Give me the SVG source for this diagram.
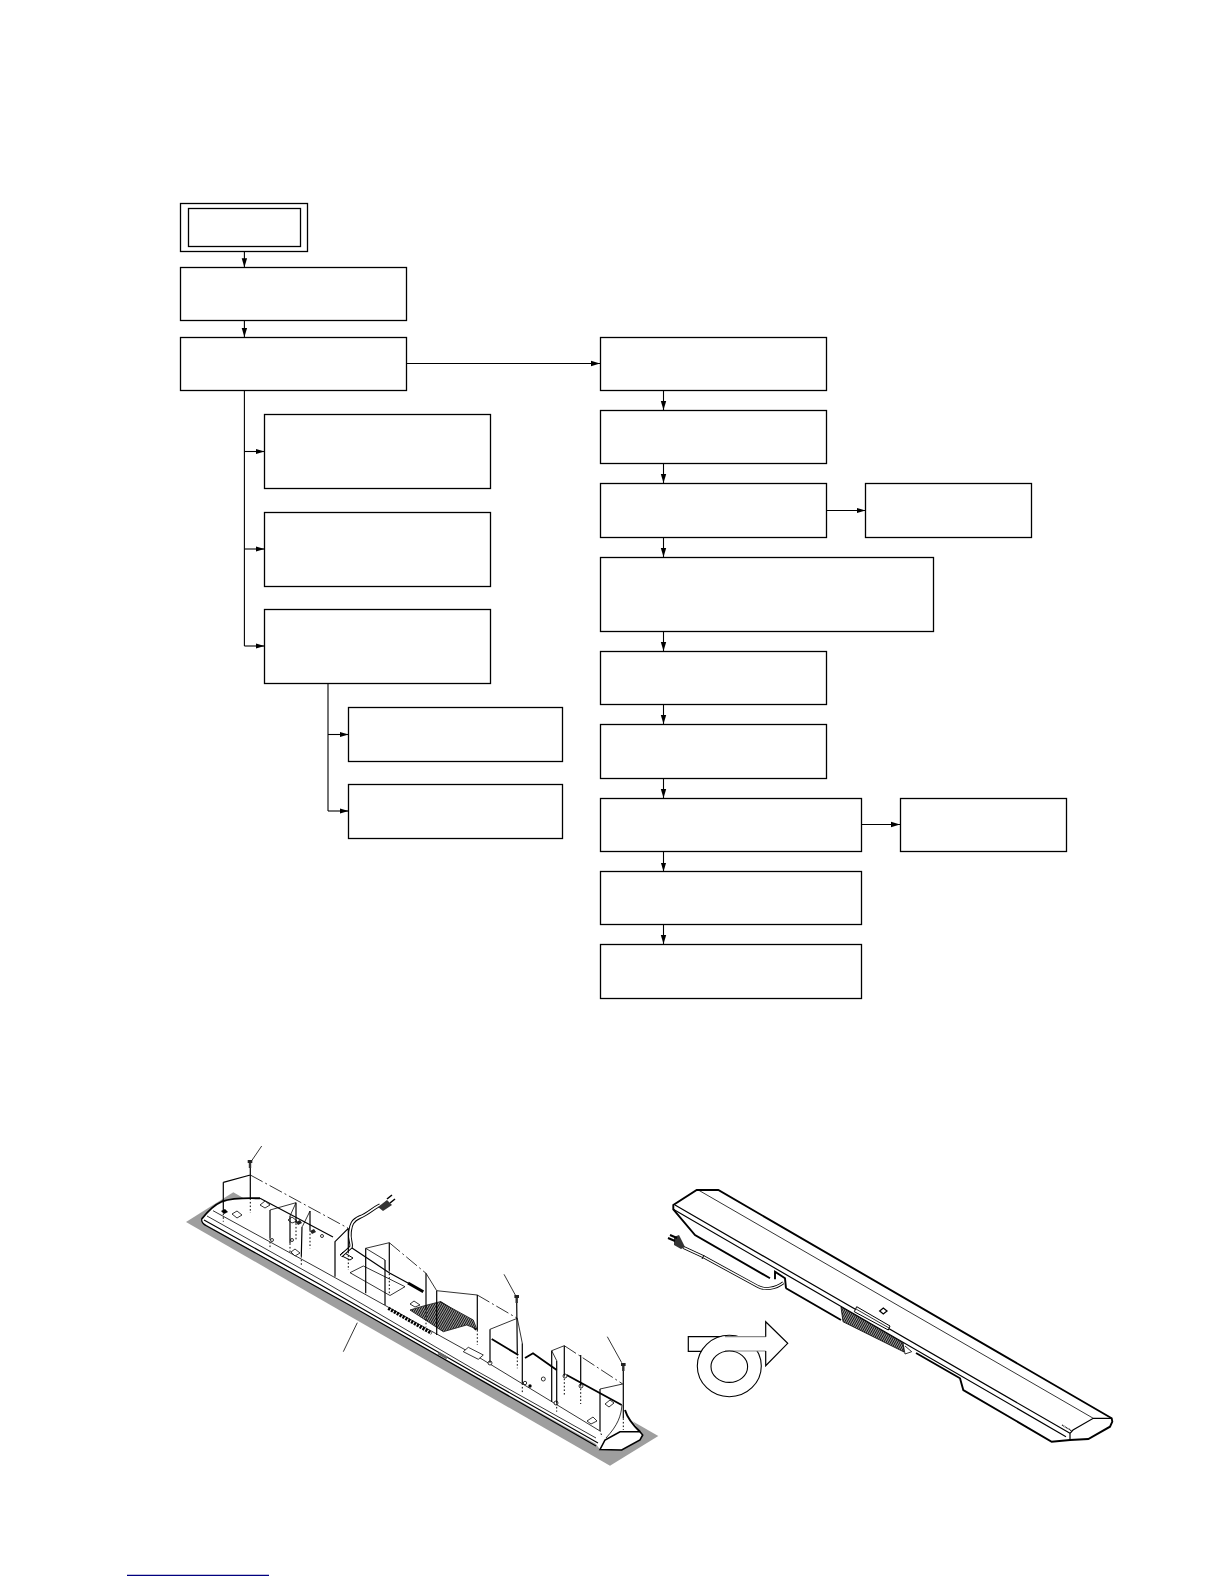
<svg xmlns="http://www.w3.org/2000/svg" width="1224" height="1584" viewBox="0 0 1224 1584">
<style>
.b{fill:#fff;stroke:#000;stroke-width:1.3}
.c{fill:none;stroke:#000;stroke-width:1.1}
.t{fill:none;stroke:#000;stroke-width:.8}
.m{fill:none;stroke:#000;stroke-width:1.2}
.k{fill:none;stroke:#000;stroke-width:1.9}
.x{fill:none;stroke:#000;stroke-width:3}
.d{fill:none;stroke:#000;stroke-width:1;stroke-dasharray:1.6 2}
.dd{fill:none;stroke:#000;stroke-width:.8;stroke-dasharray:14 3 2 3}
.s{fill:#fff;stroke:#000;stroke-width:.8}
</style>
<defs>
<marker id="a" markerUnits="userSpaceOnUse" markerWidth="9" markerHeight="7" refX="9" refY="3.5" orient="auto"><path d="M0 .8L9 3.5L0 6.2z" fill="#000"/></marker>
<pattern id="h" width="2" height="2" patternUnits="userSpaceOnUse" patternTransform="rotate(30)"><rect width="2" height="2" fill="#fff"/><rect width="1.4" height="2" fill="#111"/></pattern>
</defs>
<rect width="1224" height="1584" fill="#fff"/>
<g id="connectors">
<path class="c" marker-end="url(#a)" d="M244.4 251.5V267.3"/>
<path class="c" marker-end="url(#a)" d="M244.4 320.3V337"/>
<path class="c" marker-end="url(#a)" d="M406.3 363.5H600"/>
<path class="c" d="M244.4 390.3V646"/>
<path class="c" marker-end="url(#a)" d="M244.4 451.5H264.5"/>
<path class="c" marker-end="url(#a)" d="M244.4 549H264.5"/>
<path class="c" marker-end="url(#a)" d="M244.4 646H264.5"/>
<path class="c" d="M328 683V811"/>
<path class="c" marker-end="url(#a)" d="M328 734.5H348.5"/>
<path class="c" marker-end="url(#a)" d="M328 811H348.5"/>
<path class="c" marker-end="url(#a)" d="M663.5 390.3V410"/>
<path class="c" marker-end="url(#a)" d="M663.5 463V483"/>
<path class="c" marker-end="url(#a)" d="M663.5 537V557"/>
<path class="c" marker-end="url(#a)" d="M663.5 631V651"/>
<path class="c" marker-end="url(#a)" d="M663.5 704V724"/>
<path class="c" marker-end="url(#a)" d="M663.5 778V798"/>
<path class="c" marker-end="url(#a)" d="M663.5 851V871.5"/>
<path class="c" marker-end="url(#a)" d="M663.5 924V944"/>
<path class="c" marker-end="url(#a)" d="M826.5 510.5H865.5"/>
<path class="c" marker-end="url(#a)" d="M861.5 824.5H900"/>
</g>
<g id="n1"><rect class="b" x="180.5" y="203.5" width="127" height="48"/><rect class="b" x="188.5" y="208.5" width="112" height="38"/></g>
<g id="n2"><rect class="b" x="180.5" y="267.5" width="226" height="53"/></g>
<g id="n3"><rect class="b" x="180.5" y="337.5" width="226" height="53"/></g>
<g id="n4"><rect class="b" x="264.5" y="414.5" width="226" height="74"/></g>
<g id="n5"><rect class="b" x="264.5" y="512.5" width="226" height="74"/></g>
<g id="n6"><rect class="b" x="264.5" y="609.5" width="226" height="74"/></g>
<g id="n7"><rect class="b" x="348.5" y="707.5" width="214" height="54"/></g>
<g id="n8"><rect class="b" x="348.5" y="784.5" width="214" height="54"/></g>
<g id="n9"><rect class="b" x="600.5" y="337.5" width="226" height="53"/></g>
<g id="n10"><rect class="b" x="600.5" y="410.5" width="226" height="53"/></g>
<g id="n11"><rect class="b" x="600.5" y="483.5" width="226" height="54"/></g>
<g id="n12"><rect class="b" x="865.5" y="483.5" width="166" height="54"/></g>
<g id="n13"><rect class="b" x="600.5" y="557.5" width="333" height="74"/></g>
<g id="n14"><rect class="b" x="600.5" y="651.5" width="226" height="53"/></g>
<g id="n15"><rect class="b" x="600.5" y="724.5" width="226" height="54"/></g>
<g id="n16"><rect class="b" x="600.5" y="798.5" width="261" height="53"/></g>
<g id="n17"><rect class="b" x="900.5" y="798.5" width="166" height="53"/></g>
<g id="n18"><rect class="b" x="600.5" y="871.5" width="261" height="53"/></g>
<g id="n19"><rect class="b" x="600.5" y="944.5" width="261" height="54"/></g>

<g id="illustration-left">
<polygon points="186,1222 233.3,1192.3 658.3,1436 610,1465.7" fill="#9e9e9e"/>
<path d="M201.7 1219C208 1211 214 1205 222 1201.5C232 1198 250 1198 260 1198.3L333 1237L393 1273L467 1319L476 1330L518 1355L525 1358L533 1353.3L556.7 1370L622 1405L625 1410L640 1431.7L642.7 1435L640 1440L621.7 1450L600 1449.5L596 1444L353 1307L206.7 1225Q201 1223 201.7 1219z" fill="#fff"/>
<!-- panel edges -->
<path class="k" d="M201.7 1219C208 1211 214 1205 222 1201.5C232 1198 250 1198 260 1198.3"/>
<path class="m" d="M260 1198.3L333 1237M352 1248L390 1273.3L408 1283"/>
<path class="x" d="M408 1283L423.3 1291.7"/>
<path class="k" d="M440 1301.7L467 1319L476 1330M491.7 1339L518.3 1355M525 1358L533 1353.3L556.7 1370M566.7 1375L621.7 1405"/>
<path class="m" d="M201.7 1219Q201 1223 206.7 1226L353 1307L596 1446"/>
<path class="t" d="M213 1210.7L320 1269.3L480 1358L600 1431"/>
<path class="t" d="M207 1216L320 1279.3L476.7 1371L596 1438"/>
<path class="m" d="M204 1220L320 1284.5L480 1376L598 1443"/>
<rect x="438" y="1354" width="10" height="3" fill="#666" transform="rotate(30 443 1355)"/>
<!-- end cap -->
<path d="M600 1449.5L605 1440L620 1431.7L640 1431.7L642.7 1435L640 1440L621.7 1450z" fill="#fff" stroke="#000" stroke-width="1.6"/>
<path class="k" d="M625 1410C628 1420 634 1426 640 1431.7"/>
<path class="t" d="M622 1405C621 1416 618 1425 606 1438"/>
<!-- surface details -->
<path class="s" d="M350 1272.7L363.3 1266L405 1286.7L390 1295.5z"/>
<path class="s" d="M463.3 1351.7L468.3 1347.3L483.3 1355L478.3 1359.3z"/>
<path class="s" d="M232 1214L237 1211L242 1215L237 1218z"/>
<path class="s" d="M260 1205L265 1201L270 1205L265 1208z"/>
<path class="s" d="M288 1220L292 1217L297 1221L292 1223z"/>
<path class="s" d="M291 1252L295 1249L300 1253L295 1256z"/>
<path class="s" d="M410 1304L414 1301L420 1305L415 1307z"/>
<path class="s" d="M587 1421L593 1417L597 1421L591 1424z"/>
<path class="s" d="M605 1404L610 1400L614 1403L609 1407z"/>
<circle class="s" cx="543.3" cy="1379" r="2"/><circle class="s" cx="272" cy="1240" r="1.5"/><circle class="s" cx="292" cy="1240" r="1.5"/><circle class="s" cx="322" cy="1236" r="1.5"/><circle class="s" cx="490" cy="1363" r="2"/><circle class="s" cx="556" cy="1403" r="2"/><circle class="s" cx="565" cy="1376" r="2"/><circle class="s" cx="581" cy="1386" r="2"/>
<circle cx="530" cy="1386" r="1.7" fill="#000"/><circle cx="525" cy="1383" r="1.7" class="s"/>
<path d="M221 1211l4-2 3 3-4 2z" fill="#000"/>
<path d="M296 1222l4-2 2 3-4 2zM310 1231l4-2 2 3-4 2z" fill="#222"/>
<path d="M340 1255l10 5 3-2-10-6z" fill="#fff" stroke="#000" stroke-width="1"/>
<!-- vent -->
<path d="M410 1310L423.3 1306L440 1301.7L473.3 1320L476.7 1329L466.7 1325L443.3 1331.7z" fill="url(#h)" stroke="#111" stroke-width=".8"/>
<path d="M388.3 1308.3L431.7 1333.3" stroke="#000" stroke-width="3.4" stroke-dasharray="2.2 1.1" fill="none"/>
<!-- cord -->
<path d="M380 1205C372 1209 368 1214 360 1217C351 1221 351 1226 350 1232C349 1240 352 1243 351 1247L341 1256" fill="none" stroke="#000" stroke-width="3.6"/>
<path d="M380 1205C372 1209 368 1214 360 1217C351 1221 351 1226 350 1232C349 1240 352 1243 351 1247L341 1256" fill="none" stroke="#fff" stroke-width="1.6"/>
<path d="M378 1207L387 1200L392 1205L383 1211z" fill="#333"/><path d="M387 1199l5-4M390 1203l5-4" stroke="#000" stroke-width="1.6" fill="none"/>
<!-- explode lines -->
<path class="m" d="M223.3 1182.3L250.3 1175M223.3 1182.3V1210M250.3 1167V1198.3"/>
<path class="dd" d="M250.3 1175L348.3 1228.3"/>
<path class="m" d="M348.3 1228.3L335 1241.7V1276.7M348.3 1228.3V1251.7"/>
<path class="t" d="M270 1210L296 1202.7L290 1216M310 1211L302.3 1226.7"/>
<path class="m" d="M270 1210V1238.3M296 1202.7V1223.3M290 1216V1243.3M302 1226.7L301.3 1256M310 1211V1230"/>
<path class="t" d="M365.7 1248.3L389.3 1242.7M365.7 1248.3L385 1260"/>
<path class="m" d="M365.7 1248.3V1293.3M389.3 1242.7V1270M385 1260V1305"/>
<path class="dd" d="M389.3 1242.7L426 1273.3"/>
<path class="t" d="M426 1273.3L436.7 1290.7L477.3 1295"/>
<path class="m" d="M426 1273.3V1308.3M436.7 1290.7V1335M477.3 1295V1330"/>
<path class="dd" d="M477.3 1295L517.3 1318.3"/>
<path class="t" d="M517.3 1318.3L490 1329.3M517.3 1318.3L522.3 1343.3"/>
<path class="m" d="M490 1329.3V1362.7M516.7 1301.7L517.3 1353.3M522.3 1343.3V1383.3"/>
<path class="t" d="M551.7 1350.7L564.3 1345.7M551.7 1350.7L556.7 1360.7"/>
<path class="m" d="M551.7 1350.7V1401.7M556.7 1360.7V1403.3M564.3 1345.7V1375M580.7 1355V1385"/>
<path class="dd" d="M564.3 1345.7L622.7 1384"/>
<path class="t" d="M622.7 1384L600 1389"/>
<path class="m" d="M600 1389V1430M623.3 1368.3V1418.3"/>
<path class="d" d="M223.3 1210V1221.7M250.3 1198.3V1213M270 1238.3V1247.3M296 1223.3V1240M290 1243.3V1253.3M301.3 1256V1265M310 1230V1248.3M348.3 1251.7V1270M389.3 1270V1293.3M426 1308.3V1326.7M477.3 1330V1345M517.3 1353.3V1368.3M522.3 1383.3V1393.3M556.7 1403.3V1411.7M564.3 1375V1395M580.7 1385V1404M600 1430L602 1437M623.3 1418.3V1430"/>
<!-- screws and leaders -->
<path class="t" d="M261.7 1146L251.7 1160.7M504 1274.3L515.3 1295M607.3 1336.7L621.7 1362.7M343.3 1351.7L357.3 1322.7"/>
<rect x="247.7" y="1160" width="4.6" height="3" fill="#222"/><rect x="248.8" y="1163" width="2.4" height="5" fill="#333"/>
<rect x="514.4" y="1295" width="4.6" height="3" fill="#222"/><rect x="515.5" y="1298" width="2.4" height="5" fill="#333"/>
<rect x="621" y="1363" width="4.6" height="3" fill="#222"/><rect x="622.1" y="1366" width="2.4" height="5" fill="#333"/>
</g>

<g id="illustration-right">
<path d="M673.3 1205L696.7 1190H718.3L1111.7 1418.3L1112.3 1421.7L1110 1426.7L1088.3 1439L1070 1440L1051.7 1441.7L963.3 1390L960 1378.3L911.7 1351.7L905 1355L841.7 1320L786 1288.3L785 1278.3L775 1271.7V1279.3L770 1278.3L695 1235L673.3 1209.3z" fill="#fff"/>
<path class="k" d="M770 1278.3L695 1235L673.3 1209.3V1205L696.7 1190H718.3L1111.7 1418.3L1112.3 1421.7L1110 1426.7L1088.3 1439L1070 1440L1051.7 1441.7L963.3 1390L960 1378.3L916 1353M786 1288.3L785 1278.3L775 1271.7V1279.3M786 1288.3L841 1320"/>
<path class="t" d="M698.3 1190L1093.3 1418.3"/>
<path class="m" d="M675 1205L1070 1433.3M673.3 1209.3L1066 1436.7"/>
<path class="t" d="M671 1209"/>
<path class="m" d="M1070 1433.3L1073 1430L1093.3 1418.3L1111.7 1418.3M1070 1433.3V1440"/>
<path d="M841 1307L903 1343L904 1352L843 1321.7z" fill="url(#h)" stroke="#000" stroke-width=".8"/>
<path d="M856.7 1306.7L890 1326L888.3 1330L854.3 1311.7z" fill="#fff" stroke="#000" stroke-width="1"/>
<path class="t" d="M856 1309L889 1328"/>
<path d="M903 1343L905 1354L911.7 1351.7L905 1346" fill="#fff" stroke="#000" stroke-width=".8"/>
<path d="M879.7 1311L883.3 1308L887 1311L883.3 1314z" fill="#fff" stroke="#000" stroke-width="1.3"/>
<path d="M1062 1425l10 6" stroke="#000" stroke-width="1.2" stroke-dasharray="1 .6" fill="none"/>
<path d="M683.3 1247.3L703.3 1256.7L758.3 1286.7C765 1290 775 1289 783.3 1282.7" fill="none" stroke="#000" stroke-width="3"/>
<path d="M683.3 1247.3L703.3 1256.7L758.3 1286.7C765 1290 775 1289 783.3 1282.7" fill="none" stroke="#fff" stroke-width="1.4"/>
<path d="M704 1255l-2 4" stroke="#000" stroke-width="1"/>
<path d="M674 1237L679 1235L685 1247L681 1249L674 1245z" fill="#333"/><path d="M668 1238l7 3M670 1235l7 3" stroke="#000" stroke-width="2"/>
</g>

<g id="rotate-arrow">
<path class="m" d="M701.7 1351.3H688.3V1336.7H725"/>
<ellipse cx="729.3" cy="1366" rx="32" ry="30.7" fill="#fff" stroke="#000" stroke-width="1.1"/>
<path d="M725 1336.7H765.7V1321.7L787.7 1343.3L765.7 1365.7V1351H725z" fill="#fff"/>
<path d="M725 1336.7H765.7M725 1351H765.7" stroke="#888" stroke-width="1.2" fill="none"/>
<path class="m" d="M765.7 1336.7V1321.7L787.7 1343.3L765.7 1365.7V1351"/>
<ellipse cx="729.3" cy="1366.7" rx="18.3" ry="15.7" fill="#fff" stroke="#000" stroke-width="1.1"/>
</g>
<path id="link-underline" d="M127 1575.3H269" stroke="#00007f" stroke-width="1.2" fill="none"/>
</svg>
